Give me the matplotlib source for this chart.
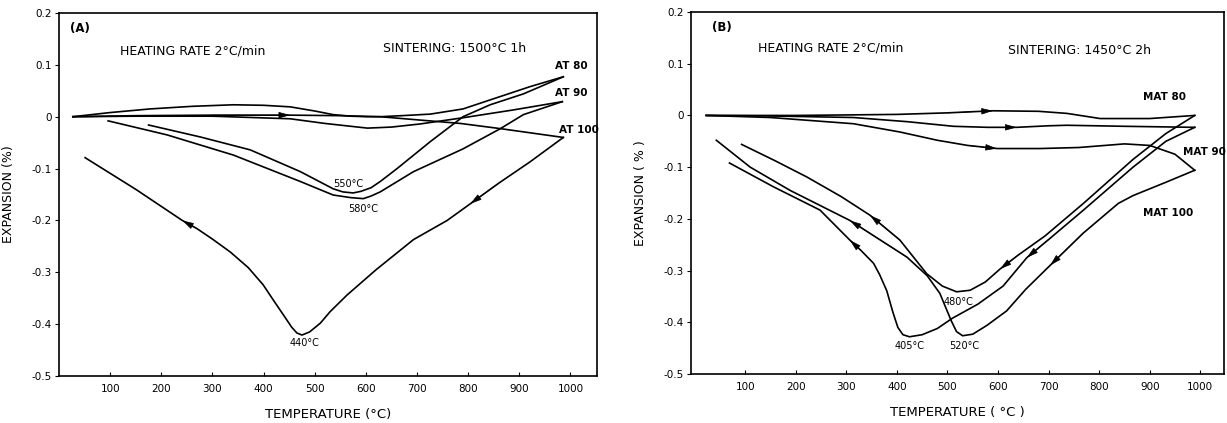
import matplotlib
matplotlib.use("Agg")
import matplotlib.pyplot as plt

# ---- Daten (A): Sinterung 1500°C 1h ----
at80_heat_T = [27, 100, 178, 260, 341, 400, 452, 500, 536, 570, 603, 628, 670, 726, 790, 857, 921, 986]
at80_heat_E = [0, 0.008, 0.015, 0.020, 0.023, 0.022, 0.019, 0.011, 0.004, 0.001, 0, 0, 0.002, 0.005, 0.015, 0.037, 0.058, 0.077]
at80_cool_T = [986, 908, 843, 790, 726, 661, 628, 610, 590, 575, 555, 536, 472, 374, 276, 175]
at80_cool_E = [0.077, 0.044, 0.023, 0, -0.048, -0.100, -0.125, -0.137, -0.144, -0.147, -0.145, -0.139, -0.106, -0.064, -0.039, -0.016]

at90_heat_T = [27, 150, 300, 452, 520, 603, 650, 706, 790, 888, 984]
at90_heat_E = [0, 0.001, 0.001, -0.004, -0.013, -0.022, -0.020, -0.014, -0.002, 0.013, 0.029]
at90_cool_T = [984, 908, 863, 790, 693, 628, 610, 595, 570, 536, 472, 341, 211, 96]
at90_cool_E = [0.029, 0.004, -0.023, -0.062, -0.106, -0.145, -0.153, -0.158, -0.156, -0.151, -0.125, -0.074, -0.035, -0.008]

at100_heat_T = [27, 150, 300, 452, 550, 628, 700, 785, 863, 986]
at100_heat_E = [0, 0.002, 0.003, 0.003, 0.002, 0, -0.006, -0.013, -0.023, -0.040]
at100_cool_T = [986, 921, 860, 804, 759, 693, 620, 563, 530, 511, 490, 475, 465, 455, 440, 420, 399, 370, 335, 300, 270, 241, 150, 51]
at100_cool_E = [-0.040, -0.087, -0.128, -0.168, -0.200, -0.237, -0.295, -0.344, -0.376, -0.398, -0.415, -0.421, -0.417, -0.406, -0.384, -0.355, -0.324, -0.291, -0.261, -0.236, -0.216, -0.200, -0.140, -0.079]

# ---- Daten (B): Sinterung 1450°C 2h ----
mat80_heat_T = [23, 200, 400, 500, 590, 680, 736, 802, 900, 989]
mat80_heat_E = [0, 0, 0.002, 0.005, 0.009, 0.008, 0.004, -0.006, -0.006, 0]
mat80_cool_T = [989, 932, 867, 769, 693, 640, 604, 575, 545, 518, 490, 459, 406, 347, 290, 222, 160, 93]
mat80_cool_E = [0, -0.035, -0.085, -0.170, -0.233, -0.270, -0.297, -0.322, -0.338, -0.341, -0.330, -0.306, -0.241, -0.193, -0.157, -0.119, -0.088, -0.056]

mat90_heat_T = [23, 150, 314, 420, 512, 580, 637, 700, 736, 850, 989]
mat90_heat_E = [0, -0.001, -0.004, -0.012, -0.021, -0.023, -0.023, -0.020, -0.019, -0.021, -0.023]
mat90_cool_T = [989, 932, 867, 769, 700, 657, 610, 560, 510, 480, 450, 425, 412, 402, 392, 380, 366, 354, 330, 307, 248, 156, 69]
mat90_cool_E = [-0.023, -0.050, -0.100, -0.183, -0.240, -0.275, -0.330, -0.365, -0.392, -0.412, -0.424, -0.428, -0.424, -0.410, -0.380, -0.339, -0.308, -0.286, -0.262, -0.241, -0.183, -0.138, -0.092]

mat100_heat_T = [23, 150, 314, 406, 480, 540, 598, 683, 760, 850, 900, 950, 989]
mat100_heat_E = [0, -0.004, -0.016, -0.032, -0.048, -0.058, -0.064, -0.064, -0.062, -0.055, -0.058, -0.075, -0.106]
mat100_cool_T = [989, 930, 867, 838, 768, 703, 655, 617, 578, 550, 530, 518, 508, 496, 485, 460, 420, 307, 189, 110, 43]
mat100_cool_E = [-0.106, -0.130, -0.155, -0.170, -0.228, -0.290, -0.336, -0.378, -0.406, -0.423, -0.426, -0.418, -0.398, -0.370, -0.344, -0.310, -0.274, -0.203, -0.145, -0.100, -0.048]

xticks = [100, 200, 300, 400, 500, 600, 700, 800, 900, 1000]
yticks = [0.2, 0.1, 0, -0.1, -0.2, -0.3, -0.4, -0.5]
ytick_labels = ["0.2", "0.1", "0", "-0.1", "-0.2", "-0.3", "-0.4", "-0.5"]

# Kurven mit Index der Pfeilspitze
kurven_A = [
    (at80_heat_T, at80_heat_E, []),
    (at80_cool_T, at80_cool_E, []),
    (at90_heat_T, at90_heat_E, []),
    (at90_cool_T, at90_cool_E, []),
    (at100_heat_T, at100_heat_E, [3]),
    (at100_cool_T, at100_cool_E, [3, 21]),
]
kurven_B = [
    (mat80_heat_T, mat80_heat_E, [4]),
    (mat80_cool_T, mat80_cool_E, [6, 13]),
    (mat90_heat_T, mat90_heat_E, [6]),
    (mat90_cool_T, mat90_cool_E, [5, 19]),
    (mat100_heat_T, mat100_heat_E, [6]),
    (mat100_cool_T, mat100_cool_E, [5, 17]),
]

plt.rcParams['font.family'] = ['DejaVu Sans']

fig = plt.figure(figsize=(12.27, 4.23), dpi=100)
axA = fig.add_axes([0.0481, 0.1111, 0.4385, 0.8582])
axB = fig.add_axes([0.5632, 0.1158, 0.4344, 0.8558])


def zeichne(ax, kurven):
    for T, E, pfeile in kurven:
        ax.plot(T, E, color='black', lw=1.2)
        for i in pfeile:
            ax.annotate('', xy=(T[i], E[i]), xytext=(T[i - 1], E[i - 1]),
                        arrowprops=dict(arrowstyle='-|>,head_length=0.9,head_width=0.25',
                                        color='black', lw=0.5,
                                        mutation_scale=8, shrinkA=0, shrinkB=0))


def achsen(ax, xlim, ylabel, xlabel):
    ax.set_xlim(*xlim)
    ax.set_ylim(-0.5, 0.2)
    ax.set_xticks(xticks)
    ax.set_xticklabels([str(t) for t in xticks], fontsize=7.5)
    ax.set_yticks(yticks)
    ax.set_yticklabels(ytick_labels, fontsize=7.5)
    ax.tick_params(axis='x', direction='in', length=3, pad=6)
    ax.tick_params(axis='y', direction='out', length=3, pad=2)
    for s in ax.spines.values():
        s.set_linewidth(1.2)
    ax.set_ylabel(ylabel, fontsize=9, labelpad=12)
    ax.set_xlabel(xlabel, fontsize=9.5, labelpad=10)


zeichne(axA, kurven_A)
achsen(axA, (0, 1052), 'EXPANSION (%)', 'TEMPERATURE (°C)')
axA.text(21, 0.17, '(A)', fontsize=8.5, va='center', fontweight='bold')
axA.text(119, 0.127, 'HEATING RATE 2°C/min', fontsize=9, va='center')
axA.text(634, 0.131, 'SINTERING: 1500°C 1h', fontsize=9, va='center')
axA.text(970, 0.097, 'AT 80', fontsize=7.5, va='center', fontweight='bold')
axA.text(970, 0.046, 'AT 90', fontsize=7.5, va='center', fontweight='bold')
axA.text(978, -0.025, 'AT 100', fontsize=7.5, va='center', fontweight='bold')
axA.text(566, -0.129, '550°C', fontsize=7, ha='center', va='center')
axA.text(595, -0.178, '580°C', fontsize=7, ha='center', va='center')
axA.text(479, -0.436, '440°C', fontsize=7, ha='center', va='center')

zeichne(axB, kurven_B)
achsen(axB, (-7, 1047), 'EXPANSION ( % )', 'TEMPERATURE ( °C )')
axB.text(35, 0.17, '(B)', fontsize=8.5, va='center', fontweight='bold')
axB.text(126, 0.131, 'HEATING RATE 2°C/min', fontsize=9, va='center')
axB.text(620, 0.125, 'SINTERING: 1450°C 2h', fontsize=9, va='center')
axB.text(886, 0.035, 'MAT 80', fontsize=7.5, va='center', fontweight='bold')
axB.text(966, -0.070, 'MAT 90', fontsize=7.5, va='center', fontweight='bold')
axB.text(886, -0.189, 'MAT 100', fontsize=7.5, va='center', fontweight='bold')
axB.text(521, -0.361, '480°C', fontsize=7, ha='center', va='center')
axB.text(426, -0.445, '405°C', fontsize=7, ha='center', va='center')
axB.text(533, -0.445, '520°C', fontsize=7, ha='center', va='center')

fig.savefig('out.png', dpi=100)
